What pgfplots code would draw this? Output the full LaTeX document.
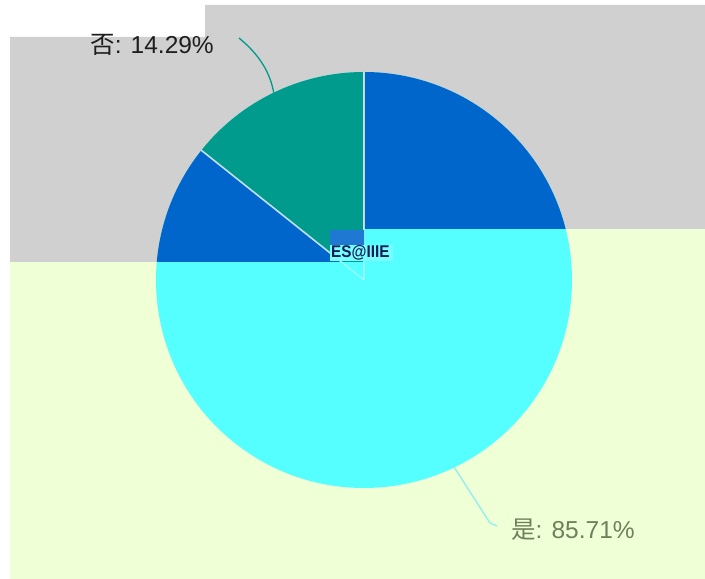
\documentclass[border=0pt]{standalone}
\usepackage{pgfplots}
\pgfplotsset{compat=1.18}
\usepackage{fontspec}
\setmainfont{Liberation Sans}
\newfontfamily\cjk{Noto Sans CJK SC}
\definecolor{bggrey}{RGB}{208,208,208}
\definecolor{bgyellow}{RGB}{239,255,214}
\definecolor{sliceteal}{RGB}{0,155,140}
\definecolor{sliceblue}{RGB}{0,102,204}
\definecolor{slicecyan}{RGB}{85,255,255}
\definecolor{labyes}{RGB}{112,128,92}
\definecolor{labno}{RGB}{30,30,30}
\definecolor{leadyes}{RGB}{140,240,240}
\definecolor{glitch}{RGB}{20,30,90}
% data (percent)
\def\valNo{14.29}
\def\valYes{85.71}
\begin{document}
\begin{tikzpicture}
\pgfmathsetmacro{\aStart}{90}
\pgfmathsetmacro{\aMid}{90+\valNo*3.6}
\pgfmathsetmacro{\aEnd}{90+(\valNo+\valYes)*3.6}
\pgfmathsetmacro{\aNoLab}{90+\valNo*1.8}
\pgfmathsetmacro{\aYesLab}{\aMid+\valYes*1.8}
\begin{axis}[
  width=705pt, height=579pt, scale only axis,
  xmin=0, xmax=705, ymin=0, ymax=579,
  hide axis, clip=false,
]
% white page
\fill[white] (axis cs:0,0) rectangle (axis cs:705,579);
% lower (yellow) background
\fill[bgyellow] (axis cs:10,0) rectangle (axis cs:705,350);
% upper (grey) background
\fill[bggrey] (axis cs:10,542) -- (axis cs:205,542) -- (axis cs:205,574) -- (axis cs:705,574)
  -- (axis cs:705,350) -- (axis cs:364,350) -- (axis cs:364,317) -- (axis cs:10,317) -- cycle;
% lower band: both slices drawn cyan
\fill[slicecyan] (axis cs:364,299) -- ++(\aMid:208pt) arc[start angle=\aMid, end angle=\aEnd, radius=208pt] -- cycle;
\fill[slicecyan] (axis cs:364,299) -- ++(\aStart:208pt) arc[start angle=\aStart, end angle=\aMid, radius=208pt] -- cycle;
% faint borders in lower band
\draw[white, opacity=0.35, line width=1.4pt] (axis cs:364,299) -- ++(\aStart:208pt);
\draw[white, opacity=0.35, line width=1.4pt] (axis cs:364,299) -- ++(\aMid:208pt);
% upper band: "否" teal, "是" blue
\begin{scope}
\clip (axis cs:10,542) -- (axis cs:205,542) -- (axis cs:205,574) -- (axis cs:705,574)
  -- (axis cs:705,350) -- (axis cs:364,350) -- (axis cs:364,317) -- (axis cs:10,317) -- cycle;
\fill[sliceteal] (axis cs:364,299) -- ++(\aStart:208pt) arc[start angle=\aStart, end angle=\aMid, radius=208pt] -- cycle;
\fill[sliceblue] (axis cs:364,299) -- ++(\aMid:208pt) arc[start angle=\aMid, end angle=\aEnd, radius=208pt] -- cycle;
\draw[white, opacity=0.75, line width=1.6pt] (axis cs:364,299) -- ++(\aStart:208pt);
\draw[white, opacity=0.75, line width=1.6pt] (axis cs:364,299) -- ++(\aMid:208pt);
\end{scope}
% glitch blocks near centre
\fill[sliceblue!88!white] (axis cs:330,334) rectangle (axis cs:364,349);
\fill[slicecyan!80!white] (axis cs:330,318) rectangle (axis cs:393,334);
\node[anchor=west, inner sep=0pt, text=glitch, font=\fontsize{17}{17}\selectfont\bfseries] at (axis cs:331,326) {\scalebox{0.9}[1]{ES@IIIE}};
% leader lines
\draw[sliceteal, line width=1.3pt] (axis cs:364,299) ++(\aNoLab:208pt) .. controls +(100:30pt) and +(-40:12pt) .. (axis cs:239,541);
\draw[leadyes, line width=1.3pt] (axis cs:364,299) ++(\aYesLab:208pt) -- (axis cs:490,56) -- (axis cs:497,53);
% labels
\node[anchor=east, inner sep=0pt, text=labno, font=\fontsize{24.5}{26}\selectfont] at (axis cs:214,534) {{\cjk 否}: 14.29\%};
\node[anchor=west, inner sep=0pt, text=labyes, font=\fontsize{24.5}{26}\selectfont] at (axis cs:511,49) {{\cjk 是}: 85.71\%};
\end{axis}
\end{tikzpicture}
\end{document}
